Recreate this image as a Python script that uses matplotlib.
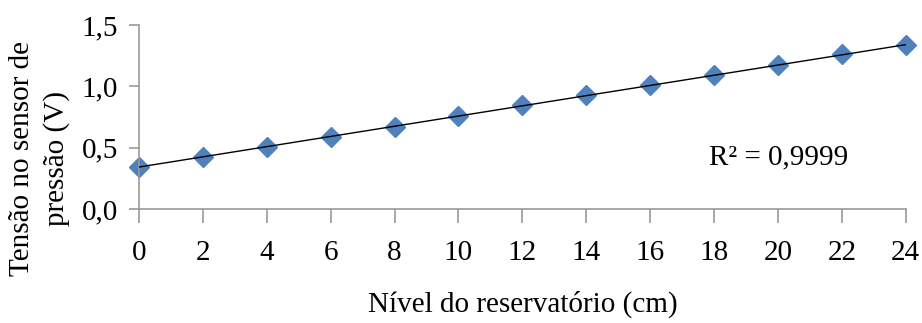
import numpy as np
import matplotlib
matplotlib.use("Agg")
import matplotlib.pyplot as plt

nivel = [0, 2, 4, 6, 8, 10, 12, 14, 16, 18, 20, 22, 24]
tensao = [0.347, 0.428, 0.509, 0.591, 0.670, 0.757, 0.846, 0.928, 1.009, 1.090, 1.172, 1.261, 1.337]
yticks = [0.0, 0.5, 1.0, 1.5]
ytick_labels = ["0,0", "0,5", "1,0", "1,5"]

plt.rcParams['font.family'] = ['Liberation Serif', 'DejaVu Serif']

fig = plt.figure(figsize=(9.22, 3.23), dpi=100)
ax = fig.add_axes([0.1508, 0.352, 0.8315, 0.5706])

coef = np.polyfit(nivel, tensao, 1)
xs = np.array([nivel[0], nivel[-1]])
ax.plot(xs, np.polyval(coef, xs), color='black', lw=1.0, zorder=3)
ax.plot(nivel, tensao, linestyle='none', marker='D', markersize=10,
        color='#4F81BD', markeredgecolor='#4F81BD', zorder=2, clip_on=False)

ax.set_xlim(0, 24)
ax.set_ylim(0, 1.5)
ax.set_xticks(nivel)
ax.set_xticklabels([str(v) for v in nivel])
ax.set_yticks(yticks)
ax.set_yticklabels(ytick_labels)

for s in ['top', 'right']:
    ax.spines[s].set_visible(False)
for s in ['left', 'bottom']:
    ax.spines[s].set_color('#999999')
    ax.spines[s].set_linewidth(1.2)
ax.tick_params(axis='both', colors='#999999', width=1.2,
               labelsize=21, labelcolor='black')
ax.tick_params(axis='x', length=10, pad=12)
ax.tick_params(axis='y', length=7, pad=8)

ax.set_xlabel('Nível do reservatório (cm)', fontsize=21, labelpad=18)
fig.text(0.043, 1 - 158 / 323, 'Tensão no sensor de\npressão (V)', fontsize=21,
         rotation=90, ha='center', va='center', multialignment='center',
         linespacing=1.4)

ax.text(17.85, 0.42, 'R² = 0,9999', fontsize=21, va='center', ha='left')

fig.savefig('out.png', dpi=100)
